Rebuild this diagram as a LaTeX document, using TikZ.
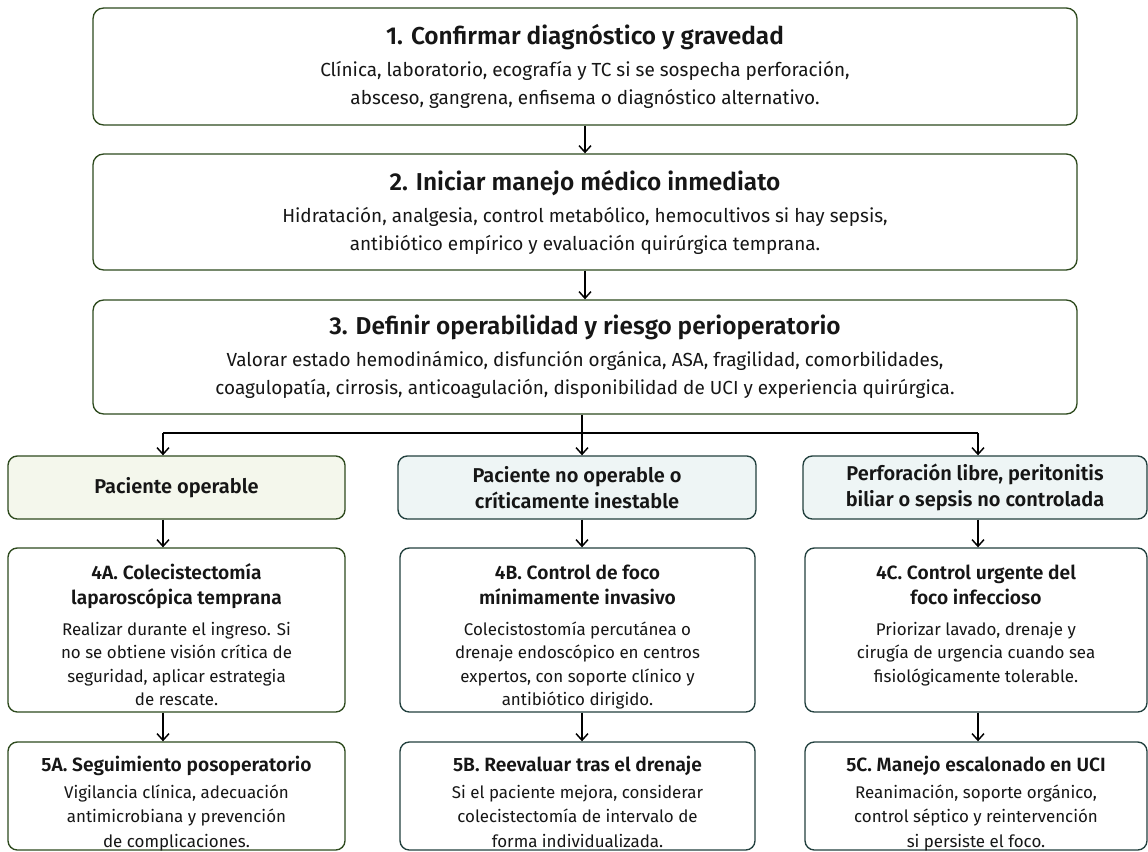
\documentclass[tikz,border=0pt]{standalone}
\usepackage{fontspec}
\setmainfont{Fira Sans}[BoldFont={* SemiBold}]
\usepackage{tikz}
\usetikzlibrary{positioning}
\usetikzlibrary{arrows.meta}
\usepackage{xcolor}
\definecolor{edgegreen}{HTML}{2E4A1E}
\definecolor{edgeteal}{HTML}{22403E}
\definecolor{fillgreen}{HTML}{F4F7EC}
\definecolor{fillteal}{HTML}{EEF5F5}
\definecolor{ink}{HTML}{161616}
\newcommand{\maintitle}[1]{{\bfseries\fontsize{18.3}{21}\selectfont #1}}
\newcommand{\steptop}[1]{{\bfseries\fontsize{14.4}{18.75}\selectfont\rule{0pt}{15pt}#1}}
\newcommand{\steptitle}[1]{{\bfseries\fontsize{14.4}{18.75}\selectfont #1}}

\begin{document}
\begin{tikzpicture}[x=0.75pt, y=-0.75pt, >={Straight Barb[length=5pt,width=9pt]},
  mainbox/.style = {draw=edgegreen, line width=1pt, rounded corners=8pt, fill=white,
    minimum width=738pt, align=center, inner sep=0pt, text=ink,
    font=\fontsize{14.2}{21}\selectfont},
  colbox/.style = {draw=#1, line width=1pt, rounded corners=7pt, align=center, inner sep=0pt,
    minimum height=47.25pt, text=ink, font=\bfseries\fontsize{15}{19.5}\selectfont},
  stepbox/.style = {draw=#1, line width=1pt, rounded corners=7pt, fill=white, inner sep=0pt},
  steptext/.style = {align=center, inner sep=0pt, text=ink, font=\fontsize{12.7}{17.5}\selectfont},
  link/.style = {line width=1.1pt}]
\useasboundingbox[fill=white] (0,0) rectangle (1148,852);

\node[mainbox, minimum height=87.75pt] (1) at (585,66.5)
  {\maintitle{1. Confirmar diagnóstico y gravedad}\\[3pt]
   Clínica, laboratorio, ecografía y TC si se sospecha perforación,\\
   absceso, gangrena, enfisema o diagnóstico alternativo.};
\node[mainbox, minimum height=87pt] (2) at (585,212)
  {\maintitle{2. Iniciar manejo médico inmediato}\\[3pt]
   Hidratación, analgesia, control metabólico, hemocultivos si hay sepsis,\\
   antibiótico empírico y evaluación quirúrgica temprana.};
\node[mainbox, minimum height=85.5pt] (3) at (585,357)
  {\maintitle{3. Definir operabilidad y riesgo perioperatorio}\\[3pt]
   Valorar estado hemodinámico, disfunción orgánica, ASA, fragilidad, comorbilidades,\\
   coagulopatía, cirrosis, anticoagulación, disponibilidad de UCI y experiencia quirúrgica.};

% tres ramas
\node[colbox=edgegreen, fill=fillgreen, minimum width=252.75pt] (pA) at (176.5,487.5)
  {Paciente operable};
\node[colbox=edgeteal, fill=fillteal, minimum width=268.5pt] (pB) at (577,487.5)
  {Paciente no operable o\\ críticamente inestable};
\node[colbox=edgeteal, fill=fillteal, minimum width=258pt] (pC) at (975,487.5)
  {Perforación libre, peritonitis\\ biliar o sepsis no controlada};

\node[stepbox=edgegreen, minimum width=252.75pt, minimum height=123pt] (4A) at (176.5,630) {};
\node[stepbox=edgeteal, minimum width=266.25pt, minimum height=123pt] (4B) at (577.5,630) {};
\node[stepbox=edgeteal, minimum width=256.5pt, minimum height=123pt] (4C) at (976,630) {};
\node[stepbox=edgegreen, minimum width=252.75pt, minimum height=81pt] (5A) at (176.5,796) {};
\node[stepbox=edgeteal, minimum width=266.25pt, minimum height=81pt] (5B) at (577.5,796) {};
\node[stepbox=edgeteal, minimum width=256.5pt, minimum height=81pt] (5C) at (976,796) {};

\node[steptext, below=9pt of 4A.north] (t4A)
  {\steptop{4A. Colecistectomía}\\[1.25pt] \steptitle{laparoscópica temprana}\\[5.75pt]
   Realizar durante el ingreso. Si\\ no se obtiene visión crítica de\\
   seguridad, aplicar estrategia\\ de rescate.};
\node[steptext, below=9pt of 4B.north] (t4B)
  {\steptop{4B. Control de foco}\\[1.25pt] \steptitle{mínimamente invasivo}\\[5.75pt]
   Colecistostomía percutánea o\\ drenaje endoscópico en centros\\
   expertos, con soporte clínico y\\ antibiótico dirigido.};
\node[steptext, below=9pt of 4C.north] (t4C)
  {\steptop{4C. Control urgente del}\\[1.25pt] \steptitle{foco infeccioso}\\[5.75pt]
   Priorizar lavado, drenaje y\\ cirugía de urgencia cuando sea\\
   fisiológicamente tolerable.};

\node[steptext, below=7.5pt of 5A.north] (t5A)
  {\steptop{5A. Seguimiento posoperatorio}\\[2.5pt]
   Vigilancia clínica, adecuación\\[1pt] antimicrobiana y prevención\\[1pt] de complicaciones.};
\node[steptext, below=7.5pt of 5B.north] (t5B)
  {\steptop{5B. Reevaluar tras el drenaje}\\[2.5pt]
   Si el paciente mejora, considerar\\[1pt] colecistectomía de intervalo de\\[1pt] forma individualizada.};
\node[steptext, below=7.5pt of 5C.north] (t5C)
  {\steptop{5C. Manejo escalonado en UCI}\\[2.5pt]
   Reanimación, soporte orgánico,\\[1pt] control séptico y reintervención\\[1pt] si persiste el foco.};

\coordinate (bL) at (163,433);
\coordinate (bM) at (582,433);
\coordinate (bR) at (978,433);

\path (1) edge [->, link] (2);
\path (2) edge [->, link] (3);
\draw[link] (3.south -| bM) -- (bM);
\draw[link] (bL) -- (bR);
\draw[->, link] (bL) -- (bL |- pA.north);
\draw[->, link] (bM) -- (bM |- pB.north);
\draw[->, link] (bR) -- (bR |- pC.north);
\draw[->, link] (bL |- pA.south) -- (bL |- 4A.north);
\draw[->, link] (bM |- pB.south) -- (bM |- 4B.north);
\draw[->, link] (bR |- pC.south) -- (bR |- 4C.north);
\draw[->, link] (bL |- 4A.south) -- (bL |- 5A.north);
\draw[->, link] (bM |- 4B.south) -- (bM |- 5B.north);
\draw[->, link] (bR |- 4C.south) -- (bR |- 5C.north);
\end{tikzpicture}
\end{document}
